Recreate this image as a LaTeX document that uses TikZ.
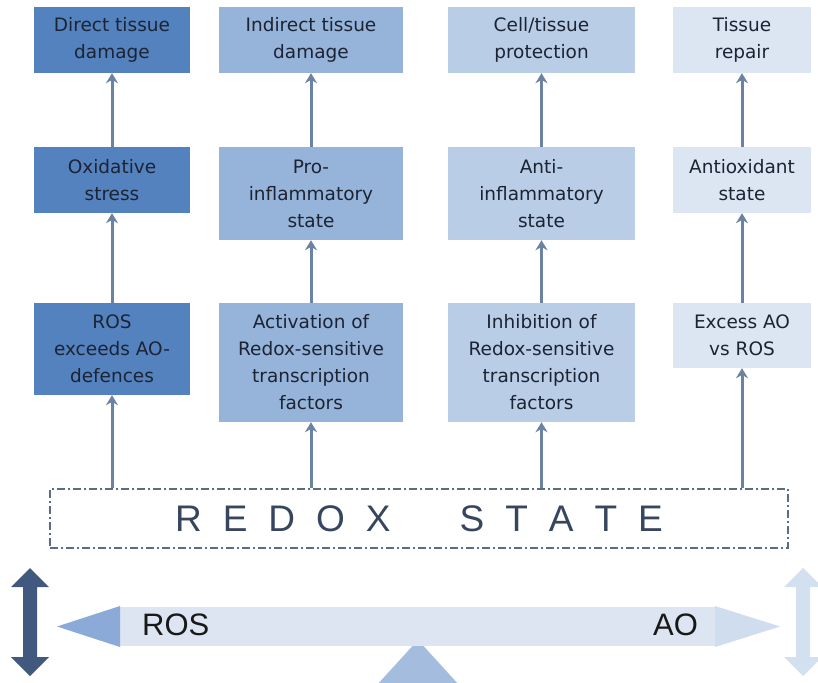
\documentclass[tikz,border=0pt]{standalone}
\usepackage{fontspec}
\setmainfont{DejaVu Sans}
\newfontfamily\lib{Liberation Sans}
\usetikzlibrary{arrows.meta}
\definecolor{c1}{RGB}{84,130,190}
\definecolor{c2}{RGB}{150,180,218}
\definecolor{c3}{RGB}{185,205,230}
\definecolor{c4}{RGB}{220,230,243}
\definecolor{txt}{RGB}{28,36,52}
\definecolor{arr}{RGB}{107,130,163}
\definecolor{dashc}{RGB}{90,108,135}
\definecolor{redtxt}{RGB}{55,70,95}
\definecolor{barc}{RGB}{221,229,243}
\definecolor{lhead}{RGB}{140,170,215}
\definecolor{rhead}{RGB}{208,221,239}
\definecolor{fulc}{RGB}{164,189,223}
\definecolor{darr}{RGB}{65,88,127}
\definecolor{larr}{RGB}{211,224,240}
\begin{document}
\begin{tikzpicture}[x=1pt,y=-1pt,
  box/.style={inner sep=0pt, align=center, font=\fontsize{18.5}{27}\selectfont, text=txt},
  conn/.style={draw=arr, line width=3pt, -{Stealth[length=10pt,width=12pt]}},
  lbl/.style={font=\lib\fontsize{31}{31}\selectfont, anchor=base west, inner sep=0pt, text=black!90}]
\clip (0,0) rectangle (818,682);
\fill[white] (0,0) rectangle (818,682);

% column 1
\node[box, fill=c1, minimum width=156pt, minimum height=66pt] (a1) at (112,40) {Direct tissue\\damage};
\node[box, fill=c1, minimum width=156pt, minimum height=66pt] (a2) at (112,180) {Oxidative\\stress};
\node[box, fill=c1, minimum width=156pt, minimum height=92pt] (a3) at (112,349) {ROS\\exceeds AO-\\defences};
% column 2
\node[box, fill=c2, minimum width=184pt, minimum height=66pt] (b1) at (311,40) {Indirect tissue\\damage};
\node[box, fill=c2, minimum width=184pt, minimum height=93pt] (b2) at (311,193.5) {Pro-\\inflammatory\\state};
\node[box, fill=c2, minimum width=184pt, minimum height=119pt] (b3) at (311,362.5) {Activation of\\Redox-sensitive\\transcription\\factors};
% column 3
\node[box, fill=c3, minimum width=187pt, minimum height=66pt] (c1n) at (541.5,40) {Cell/tissue\\protection};
\node[box, fill=c3, minimum width=187pt, minimum height=93pt] (c2n) at (541.5,193.5) {Anti-\\inflammatory\\state};
\node[box, fill=c3, minimum width=187pt, minimum height=119pt] (c3n) at (541.5,362.5) {Inhibition of\\Redox-sensitive\\transcription\\factors};
% column 4
\node[box, fill=c4, minimum width=138pt, minimum height=66pt] (d1) at (742,40) {Tissue\\repair};
\node[box, fill=c4, minimum width=138pt, minimum height=66pt] (d2) at (742,180) {Antioxidant\\state};
\node[box, fill=c4, minimum width=138pt, minimum height=65pt] (d3) at (742,335.5) {Excess AO\\vs ROS};

% redox state box
\node[draw=dashc, line width=1.2pt, dash pattern=on 8pt off 3pt on 2pt off 3pt,
  minimum width=738pt, minimum height=59pt, inner sep=0pt,
  font=\lib\fontsize{37}{40}\selectfont, text=redtxt] (redox) at (419,518.5)
  {R\kern21pt E\kern21pt D\kern21pt O\kern21pt X\kern69pt S\kern21pt T\kern21pt A\kern21pt T\kern21pt E};

% connectors
\foreach \n in {a,b,d}{
  \draw[conn] (\n3.south |- redox.north) -- (\n3.south);
  \draw[conn] (\n3.north) -- (\n2.south);
  \draw[conn] (\n2.north) -- (\n1.south);
}
\draw[conn] (c3n.south |- redox.north) -- (c3n.south);
\draw[conn] (c3n.north) -- (c2n.south);
\draw[conn] (c2n.north) -- (c1n.south);

% balance
\fill[fulc] (418,640) -- (376,686) -- (460,686) -- cycle;
\fill[barc] (120,607) rectangle (715,646);
\fill[lhead] (120,606) -- (57,626.5) -- (120,647) -- cycle;
\fill[rhead] (715,606) -- (780,626.5) -- (715,647) -- cycle;
\node[lbl] (ros) at (142,635) {ROS};
\node[lbl] (ao) at (653,635) {AO};

% double arrows
\fill[darr] (30,568) -- (49,587) -- (37,587) -- (37,657) -- (49,657) -- (30,676)
  -- (11,657) -- (23,657) -- (23,587) -- (11,587) -- cycle;
\fill[larr] (803,568) -- (822,587) -- (810,587) -- (810,657) -- (822,657) -- (803,676)
  -- (784,657) -- (796,657) -- (796,587) -- (784,587) -- cycle;
\end{tikzpicture}
\end{document}
